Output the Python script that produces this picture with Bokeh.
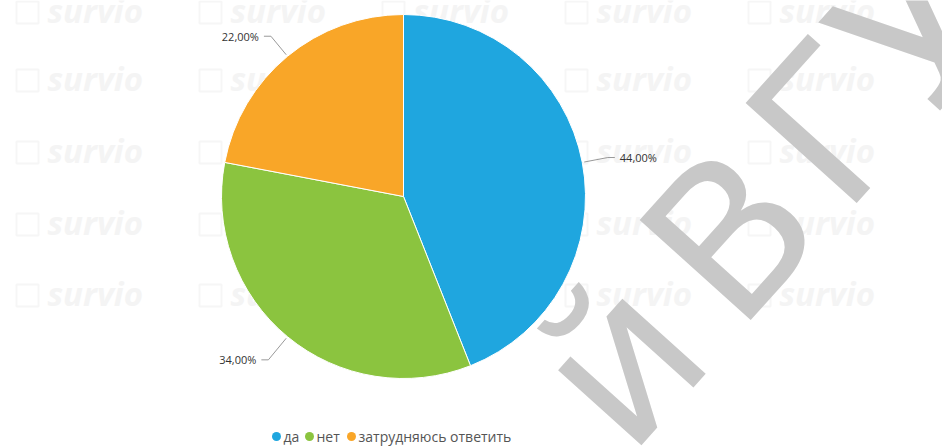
import math
from bokeh.plotting import figure
from bokeh.models import ColumnDataSource, Range1d
from bokeh.core.properties import value
from bokeh.embed import file_html
from bokeh.resources import INLINE

# ---- data ----
categories = ["да", "нет", "затрудняюсь ответить"]
percents = [44.0, 34.0, 22.0]
label_texts = ["44,00%", "34,00%", "22,00%"]
colors = ["#1fa6df", "#8bc43f", "#f9a628"]

W, H = 942, 448
FONT = "Open Sans"

p = figure(width=W, height=H, x_range=Range1d(0, W), y_range=Range1d(0, H),
           output_backend="svg", toolbar_location=None, min_border=0,
           x_axis_location=None, y_axis_location=None)
p.grid.visible = False
p.outline_line_color = None
p.background_fill_color = "white"
p.border_fill_color = "white"

def Y(py):
    return H - py

# ---- faint "survio" watermark grid ----
wm_cols = [47, 230, 413, 596, 779]
wm_rows = [10, 78, 150, 222, 293]
wx, wy, bx, by = [], [], [], []
for r in wm_rows:
    for c in wm_cols:
        wx.append(c); wy.append(Y(r))
        bx.append(c - 20); by.append(Y(r) - 2)
p.text(x=wx, y=wy, text=["survio"] * len(wx), text_font=value(FONT),
       text_font_size="33px", text_font_style="bold italic", text_color="#f4f4f4",
       text_baseline="middle", text_align="left")
p.rect(x=bx, y=by, width=22, height=22, fill_color=None, line_color="#f6f6f6", line_width=2)

# ---- pie ----
cx, cy, R = 403, Y(196), 182
total = sum(percents)
starts, ends, mids = [], [], []
cum = 0.0
for v in percents:
    a0 = math.pi / 2 - cum / total * 2 * math.pi
    cum += v
    a1 = math.pi / 2 - cum / total * 2 * math.pi
    starts.append(a0); ends.append(a1); mids.append((a0 + a1) / 2)

src = ColumnDataSource(dict(start=starts, end=ends, color=colors, cat=categories))
p.wedge(x=cx, y=cy, radius=R, radius_units="screen", start_angle="start", end_angle="end",
        direction="clock", fill_color="color", line_color="white", line_width=1, source=src)

# ---- data labels with leader lines ----
lxs, lys, tx, ty, ta = [], [], [], [], []
for m in mids:
    c, s = math.cos(m), math.sin(m)
    ax, ay = cx + (R + 2) * c, cy + (R + 2) * s
    rr = R + (30 if s < 0 else 26)
    bx2, by2 = cx + rr * c, cy + rr * s
    sgn = 1 if c >= 0 else -1
    ex = bx2 + 7 * sgn
    lxs.append([ax, bx2, ex]); lys.append([ay, by2, by2])
    tx.append(ex + 5 * sgn); ty.append(by2)
    ta.append("left" if sgn > 0 else "right")
p.multi_line(xs=lxs, ys=lys, line_color="#999999", line_width=1)
p.text(x=tx, y=ty, text=label_texts, text_align=ta, text_baseline="middle",
       text_font=value(FONT), text_font_size="11px", text_color="#333333")

# ---- legend ----
leg_marker_x = [276, 309, 351]
leg_y = Y(436)
p.scatter(x=leg_marker_x, y=[leg_y] * 3, size=9, marker="circle", fill_color=colors, line_color=None)
p.text(x=[v + 7 for v in leg_marker_x], y=[leg_y] * 3, text=categories,
       text_align="left", text_baseline="middle", text_font=value(FONT),
       text_font_size="14px", text_color="#555555")

# ---- big repository watermark ----
ang = math.radians(48)
wm_kw = dict(angle=ang, text_baseline="alphabetic", text_font=value("DejaVu Sans"),
             text_font_size="205px", text_color="#c8c8c8")
p.text(x=[684], y=[Y(287)], text=["В"], text_align="left", **wm_kw)
p.text(x=[790], y=[Y(170)], text=["ГУ"], text_align="left", **wm_kw)
p.text(x=[665], y=[Y(312)], text=["й"], text_align="right", **wm_kw)

open("out.html", "w").write(file_html(p, INLINE))
